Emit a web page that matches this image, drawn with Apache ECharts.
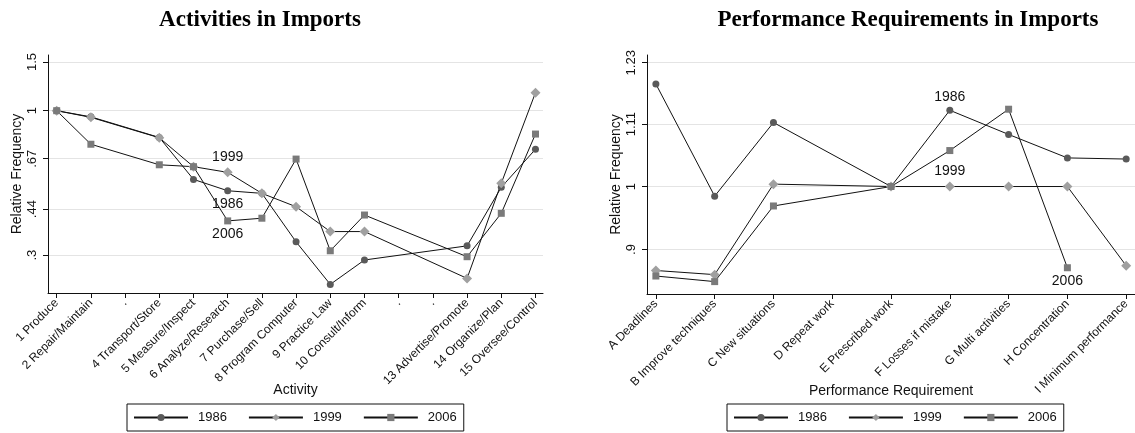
<!DOCTYPE html>
<html>
<head>
<meta charset="utf-8">
<script src="https://cdn.jsdelivr.net/npm/echarts@6/dist/echarts.min.js"></script>
<style>
  html, body { margin: 0; padding: 0; background: #fff; }
  #chart { width: 1135px; height: 433px; }
</style>
</head>
<body>
<div id="chart"></div>
<script>
// Activity categories (3, 11 and 12 have no observations)
const activityLabels = ['1 Produce', '2 Repair/Maintain', '.', '4 Transport/Store', '5 Measure/Inspect',
  '6 Analyze/Research', '7 Purchase/Sell', '8 Program Computer', '9 Practice Law', '10 Consult/Inform',
  '.', '.', '13 Advertise/Promote', '14 Organize/Plan', '15 Oversee/Control'];
const act1986 = [1.00, 0.950, null, 0.800, 0.564, 0.513, 0.502, 0.335, 0.235, 0.288, null, null, 0.324, 0.528, 0.725];
const act1999 = [1.00, 0.946, null, 0.798, 0.627, 0.598, 0.502, 0.449, 0.365, 0.365, null, null, 0.247, 0.546, 1.162];
const act2006 = [1.00, 0.756, null, 0.637, 0.627, 0.399, 0.408, 0.668, 0.311, 0.419, null, null, 0.296, 0.425, 0.823];
const actTicks = [0.3, 0.44, 0.67, 1, 1.5];

// Performance requirements (D has no observations)
const perfLabels = ['A Deadlines', 'B Improve techniques', 'C New situations', 'D Repeat work',
  'E Prescribed work', 'F Losses if mistake', 'G Multi activities', 'H Concentration', 'I Minimum performance'];
const perf1986 = [1.187, 0.984, 1.113, null, 1.000, 1.136, 1.091, 1.049, 1.047];
const perf1999 = [0.869, 0.863, 1.004, null, 1.000, 1.000, 1.000, 1.000, 0.876];
const perf2006 = [0.861, 0.853, 0.968, null, 1.000, 1.062, 1.138, 0.873, null];
const perfTicks = [0.9, 1, 1.11, 1.23];

const years = ['1986', '1999', '2006'];

const FONT = '"Liberation Sans", Arial, sans-serif';
const SERIF = '"Liberation Serif", "Times New Roman", serif';

const markerStyle = {
  '1986': { symbol: 'circle', symbolSize: 7, color: '#5a5a5a' },
  '1999': { symbol: 'diamond', symbolSize: 10, color: '#a0a0a0' },
  '2006': { symbol: 'rect', symbolSize: 7, color: '#7a7a7a' }
};

function tickText(v) {
  return String(Number(Number(v).toPrecision(3))).replace(/^0\./, '.');
}

// Turn a value list into [position, value] points, skipping gaps,
// and put the year label on one chosen point.
function points(values, labelIndex, labelText, labelPos) {
  const out = [];
  values.forEach((v, i) => {
    if (v == null) return;
    const item = { value: [i + 1, v] };
    if (i === labelIndex) {
      item.label = {
        show: true, formatter: labelText, position: labelPos, distance: 3,
        fontFamily: FONT, fontSize: 14, color: '#111'
      };
    }
    out.push(item);
  });
  return out;
}

function lineSeries(name, data, idx) {
  const m = markerStyle[name];
  return {
    name: name, type: 'line', xAxisIndex: idx, yAxisIndex: idx,
    data: data, symbol: m.symbol, symbolSize: m.symbolSize,
    itemStyle: { color: m.color },
    lineStyle: { color: '#111', width: 1 },
    emphasis: { disabled: true },
    z: 2
  };
}

function xAxis(idx, labels, min, max, name) {
  const vals = labels.map((_, i) => i + 1);
  return {
    type: 'value', gridIndex: idx, min: min, max: max,
    axisLine: { show: true, onZero: false, lineStyle: { color: '#111', width: 1 } },
    axisTick: { show: true, length: 5, customValues: vals, lineStyle: { color: '#111' } },
    axisLabel: {
      customValues: vals, rotate: 45, margin: 8, fontFamily: FONT, fontSize: 12, color: '#111',
      formatter: v => labels[Math.round(v) - 1]
    },
    splitLine: { show: false },
    name: name, nameLocation: 'middle', nameGap: 90, nameMoveOverlap: false,
    nameTextStyle: { fontFamily: FONT, fontSize: 14, color: '#111' }
  };
}

function yAxis(idx, ticks, min, max) {
  return {
    type: 'log', gridIndex: idx, min: min, max: max,
    axisLine: { show: true, lineStyle: { color: '#111', width: 1 } },
    axisTick: { show: true, length: 5, customValues: ticks, lineStyle: { color: '#111' } },
    axisLabel: {
      customValues: ticks, rotate: 90, margin: 9, fontFamily: FONT, fontSize: 13, color: '#111',
      formatter: tickText
    },
    splitLine: { show: true, lineStyle: { color: '#e4e4e4', width: 1 } },
    name: 'Relative Frequency', nameLocation: 'middle', nameGap: 24, nameMoveOverlap: false,
    nameTextStyle: { fontFamily: FONT, fontSize: 14, color: '#111' }
  };
}

function legend(left) {
  return {
    data: years, left: left, top: 404, orient: 'horizontal',
    itemWidth: 54, itemHeight: 9, itemGap: 21,
    padding: [7, 7, 7, 6],
    borderColor: '#111', borderWidth: 1, borderRadius: 0,
    textStyle: { fontFamily: FONT, fontSize: 13, color: '#111', padding: [0, 0, 0, 5] },
    selectedMode: false
  };
}

const chart = echarts.init(document.getElementById('chart'), null, { renderer: 'canvas' });
chart.setOption({
  animation: false,
  backgroundColor: '#fff',
  title: [
    { text: 'Activities in Imports', left: 255, top: 4, textAlign: 'center',
      textStyle: { fontFamily: SERIF, fontSize: 23, fontWeight: 'bold', color: '#000' } },
    { text: 'Performance Requirements in Imports', left: 903, top: 4, textAlign: 'center',
      textStyle: { fontFamily: SERIF, fontSize: 23, fontWeight: 'bold', color: '#000' } }
  ],
  legend: [legend(127), legend(727)],
  grid: [
    { left: 48, top: 55, width: 495, height: 238 },
    { left: 647, top: 55, width: 495, height: 239 }
  ],
  xAxis: [
    xAxis(0, activityLabels, 0.746, 15.22, 'Activity'),
    xAxis(1, perfLabels, 0.849, 9.15, 'Performance Requirement')
  ],
  yAxis: [
    yAxis(0, actTicks, 0.2187, 1.591),
    yAxis(1, perfTicks, 0.8355, 1.246)
  ],
  series: [
    lineSeries('1986', points(act1986, 5, '1986', 'bottom'), 0),
    lineSeries('1999', points(act1999, 5, '1999', 'top'), 0),
    lineSeries('2006', points(act2006, 5, '2006', 'bottom'), 0),
    lineSeries('1986', points(perf1986, 5, '1986', 'top'), 1),
    lineSeries('1999', points(perf1999, 5, '1999', 'top'), 1),
    lineSeries('2006', points(perf2006, 7, '2006', 'bottom'), 1)
  ]
});
</script>
</body>
</html>
